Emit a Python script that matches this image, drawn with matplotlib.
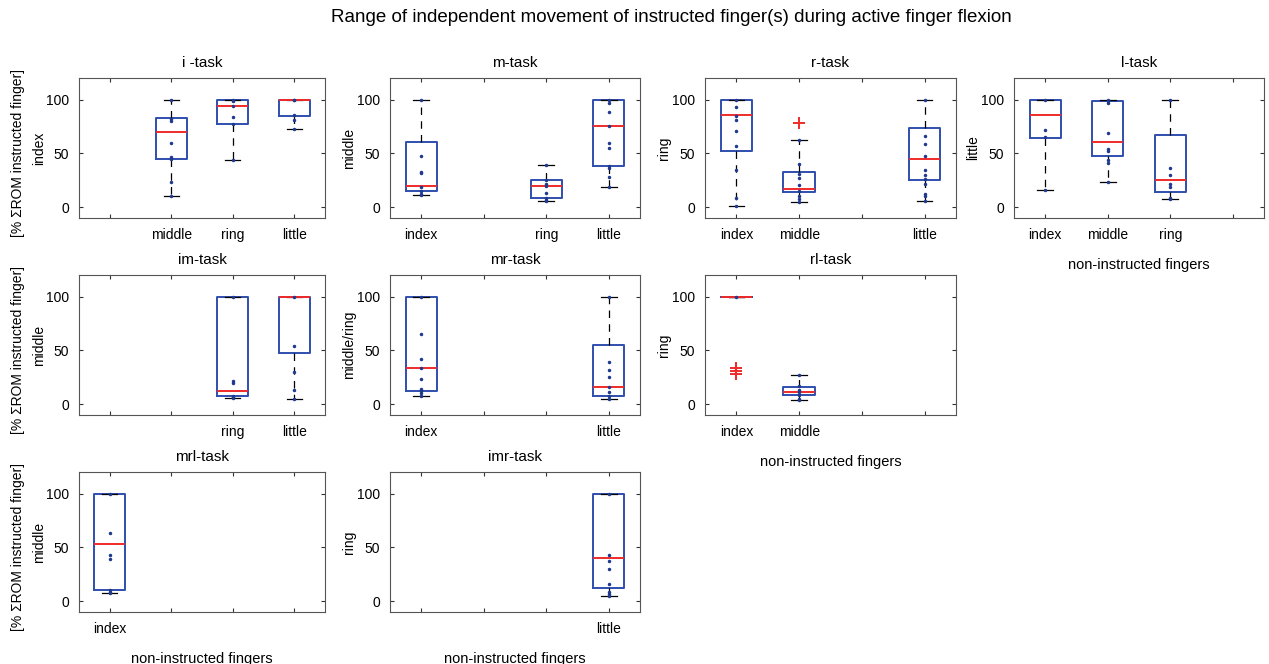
import matplotlib.pyplot as plt

plt.rcParams['font.family'] = ['Liberation Sans Narrow', 'Liberation Sans', 'DejaVu Sans']

fingers = ["index", "middle", "ring", "little"]
tasks = ["i -task", "m-task", "r-task", "l-task",
         "im-task", "mr-task", "rl-task", "mrl-task", "imr-task"]
instructed = ["index", "middle", "ring", "little",
              "middle", "middle/ring", "ring", "middle", "ring"]
# grid slot (row, col) of each task panel
task_row = [0, 0, 0, 0, 1, 1, 1, 2, 2]
task_col = [0, 1, 2, 3, 0, 1, 2, 0, 1]
xlabel_tasks = [3, 6, 7, 8]

# one entry per box
box_task = [0, 0, 0, 1, 1, 1, 2, 2, 2, 3, 3, 3, 4, 4, 5, 5, 6, 6, 7, 8]
box_finger = ["middle", "ring", "little", "index", "ring", "little",
              "index", "middle", "little", "index", "middle", "ring",
              "ring", "little", "index", "little", "index", "middle",
              "index", "little"]
whis_lo = [10, 44, 72.5, 11, 6, 19, 1.5, 4.6, 6, 16, 23.5, 7.6,
           6, 5.3, 7.8, 5, 100, 4.3, 7.3, 5.2]
q1 = [45, 77, 85, 15, 8.5, 38, 52, 14, 25, 64.5, 47.4, 13.8,
      8, 47.7, 12.4, 7.8, 100, 8.6, 10.7, 12.3]
median = [70, 94, 100, 19.5, 20, 75, 85.3, 17, 45, 85.6, 61, 25.7,
          12.4, 100, 34, 16, 100, 11.3, 53, 39.7]
q3 = [83, 100, 100, 61, 25, 100, 100, 33, 74, 100, 98.5, 67,
      100, 100, 100, 55, 100, 16.3, 100, 100]
whis_hi = [100, 100, 100, 100, 39.5, 100, 100, 62.7, 100, 100, 100, 100,
           100, 100, 100, 100, 100, 27.6, 100, 100]
outliers = [[], [], [], [], [], [], [], [78.6], [], [], [], [],
            [], [], [], [], [34, 31, 28], [], [], []]
points = [
    [100, 82, 80, 60, 47, 45, 23, 10],
    [100, 99, 94, 84, 77, 44],
    [100, 100, 86, 81, 72.5],
    [100, 48, 33, 32, 19, 15, 12, 11],
    [39.5, 25, 22, 20, 13, 9, 7, 6],
    [100, 97, 88, 75, 60, 55, 38, 36, 28, 19],
    [100, 93, 85, 81, 71, 57, 35, 9, 1.5],
    [62.7, 40, 31, 27, 21, 15, 10, 8, 4.6],
    [100, 66, 59, 48, 35, 30, 26, 22, 12, 10, 6],
    [100, 72, 65, 16],
    [100, 99, 97, 69, 54, 52, 44, 41, 23.5],
    [100, 36, 30, 22, 19, 9, 8],
    [100, 22, 20, 8, 7, 6],
    [100, 54, 29.5, 13.5, 5.3],
    [100, 65, 42, 34, 23, 14, 12, 10, 8],
    [100, 39, 32, 25, 16, 11, 8, 5],
    [100],
    [27.6, 17, 13, 11, 9, 5, 4.3],
    [100, 63, 43, 39, 10, 9, 7.5],
    [100, 43, 37, 29.5, 16, 9, 7, 5],
]

W, H = 1269, 664
fig = plt.figure(figsize=(W / 100, H / 100), dpi=100)

col_left = [79, 390, 705, 1014]
col_width = [246, 250, 251, 250]
row_top = [78, 275, 472]
row_height = 140

blue = "#2f4fae"
dot = "#1f3a8f"
red = "#f02a2a"

for t, name in enumerate(tasks):
    r, c = task_row[t], task_col[t]
    ax = fig.add_axes([col_left[c] / W, 1 - (row_top[r] + row_height) / H,
                       col_width[c] / W, row_height / H])
    idx = [i for i, bt in enumerate(box_task) if bt == t]
    stats = []
    pos = []
    for i in idx:
        stats.append(dict(med=median[i], q1=q1[i], q3=q3[i],
                          whislo=whis_lo[i], whishi=whis_hi[i],
                          fliers=outliers[i]))
        pos.append(fingers.index(box_finger[i]) + 1)
    ax.bxp(stats, positions=pos, widths=0.5, capwidths=0.25,
           boxprops=dict(color=blue, linewidth=1.4),
           whiskerprops=dict(color="black", linewidth=0.9, linestyle=(0, (6, 5))),
           capprops=dict(color="black", linewidth=0.9),
           medianprops=dict(color=red, linewidth=1.4),
           flierprops=dict(marker="+", markeredgecolor=red, markersize=8,
                           markeredgewidth=1.4))
    for i, p in zip(idx, pos):
        ax.plot([p] * len(points[i]), points[i], ".", color=dot,
                markersize=3, zorder=5)
    ax.set_xlim(0.5, 4.5)
    ax.set_ylim(-10, 120)
    ax.set_yticks([0, 50, 100])
    ax.set_xticks([1, 2, 3, 4])
    ax.set_xticklabels([f if f in [box_finger[i] for i in idx] else ""
                        for f in fingers])
    ax.tick_params(direction="in", top=True, right=True, length=3,
                   labelsize=10, pad=7, colors="#333333", labelcolor="black")
    for s in ax.spines.values():
        s.set_color("#555555")
        s.set_linewidth(0.8)
    ax.set_title(name, fontsize=11, pad=8)
    ax.set_ylabel(instructed[t], fontsize=10)
    ax.yaxis.set_label_coords(-0.135, 0.5)
    if t in xlabel_tasks:
        ax.set_xlabel("non-instructed fingers", fontsize=10.5, labelpad=12)

for r in range(3):
    fig.text(18 / W, 1 - (row_top[r] + row_height / 2 + 5) / H,
             "[% ΣROM instructed finger]", rotation=90, fontsize=10,
             ha="center", va="center")

fig.suptitle("Range of independent movement of instructed finger(s) during active finger flexion",
             x=671 / W, y=1 - 18 / H, fontsize=13.5, va="center")

plt.savefig("out.png", dpi=100)
plt.close()
